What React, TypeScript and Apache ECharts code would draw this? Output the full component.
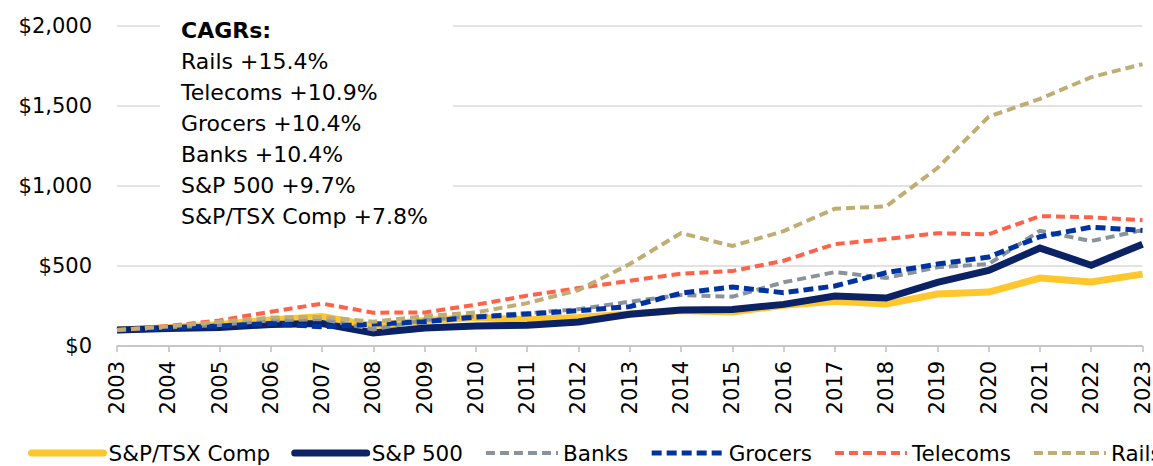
import React, { useEffect, useRef } from "react";
import * as echarts from "echarts";

const years = ["2003","2004","2005","2006","2007","2008","2009","2010","2011","2012","2013","2014","2015","2016","2017","2018","2019","2020","2021","2022","2023"];
const tsx = [100,114,135,162,185,125,160,178,165,178,200,222,212,255,280,262,325,337,425,400,449];
const sp500 = [100,110,116,135,140,82,112,125,130,150,198,225,228,260,312,300,398,472,612,505,636];
const banks = [100,115,132,160,168,104,162,187,205,230,277,319,308,398,462,425,492,512,720,656,724];
const grocers = [100,112,125,140,120,137,152,181,200,221,246,330,369,333,375,458,512,556,683,743,722];
const telecoms = [100,125,160,214,265,208,210,258,315,362,408,452,468,533,637,668,705,698,812,804,786];
const rails = [100,122,152,178,182,152,187,210,268,350,512,706,625,718,858,872,1112,1433,1545,1680,1762];
const cagrTitle = "CAGRs:";
const cagrLines = ["Rails +15.4%","Telecoms +10.9%","Grocers +10.4%","Banks +10.4%","S&P 500 +9.7%","S&P/TSX Comp +7.8%"];

const FONT = "DejaVu Sans";

export default function App() {
  const ref = useRef<HTMLDivElement>(null);
  useEffect(() => {
    const chart = echarts.init(ref.current!, null, { renderer: "svg" });
    const defs = [
      { name: "S&P/TSX Comp", data: tsx, color: "#FFC72C", width: 7, type: "solid", z: 3 },
      { name: "S&P 500", data: sp500, color: "#0B2265", width: 7, type: "solid", z: 4 },
      { name: "Banks", data: banks, color: "#8A939B", width: 4, type: [9, 5], z: 5 },
      { name: "Grocers", data: grocers, color: "#0033A0", width: 5, type: [10, 5], z: 6 },
      { name: "Telecoms", data: telecoms, color: "#FF6249", width: 4, type: [9, 5], z: 7 },
      { name: "Rails", data: rails, color: "#BFAD74", width: 4, type: [9, 5], z: 8 },
    ];
    const texts = [cagrTitle, ...cagrLines].map((t, i) => ({
      type: "text", x: 181, y: 19 + 31 * i, z: 20,
      style: { text: t, fill: "#000", fontFamily: FONT, fontSize: 22, fontWeight: i === 0 ? "bold" : "normal" },
    }));
    chart.setOption({
      animation: false,
      textStyle: { fontFamily: FONT },
      grid: { left: 117, right: 9, top: 26, bottom: 120, containLabel: false },
      xAxis: {
        type: "category", data: years, boundaryGap: false,
        axisLine: { lineStyle: { color: "#bfbfbf", width: 1.5 } },
        axisTick: { show: true, length: 6, lineStyle: { color: "#bfbfbf", width: 1.5 } },
        axisLabel: { rotate: 90, fontSize: 21, color: "#000", margin: 15, fontFamily: FONT, interval: 0 },
        splitLine: { show: false },
      },
      yAxis: {
        type: "value", min: 0, max: 2000, interval: 500,
        axisLine: { show: false }, axisTick: { show: false },
        axisLabel: { fontSize: 21, color: "#000", margin: 25, fontFamily: FONT,
          formatter: (v: number) => "$" + v.toLocaleString("en-US") },
        splitLine: { lineStyle: { color: "#d9d9d9", width: 1.5 } },
      },
      legend: {
        left: 23, top: 437, width: 1300, itemGap: 21, itemWidth: 72, itemHeight: 8,
        textStyle: { fontSize: 21.5, color: "#000", fontFamily: FONT },
        data: defs.map((d) => ({
          name: d.name,
          itemStyle: { opacity: 0 },
          lineStyle: { width: d.width, type: d.type, color: d.color, cap: d.type === "solid" ? "round" : "butt" },
        })),
      },
      graphic: {
        elements: [
          { type: "rect", x: 160, y: 8, z: 10, shape: { width: 293, height: 222 }, style: { fill: "#ffffff" } },
          ...texts,
        ],
      },
      series: defs.map((d) => ({
        name: d.name, type: "line", data: d.data, symbol: "none", z: d.z,
        lineStyle: { color: d.color, width: d.width, type: d.type, cap: "butt", join: "miter" },
        itemStyle: { color: d.color },
      })),
    });
    return () => chart.dispose();
  }, []);
  return <div ref={ref} style={{ position: "absolute", left: 0, top: 0, width: 1153, height: 466, overflow: "hidden" }} />;
}
